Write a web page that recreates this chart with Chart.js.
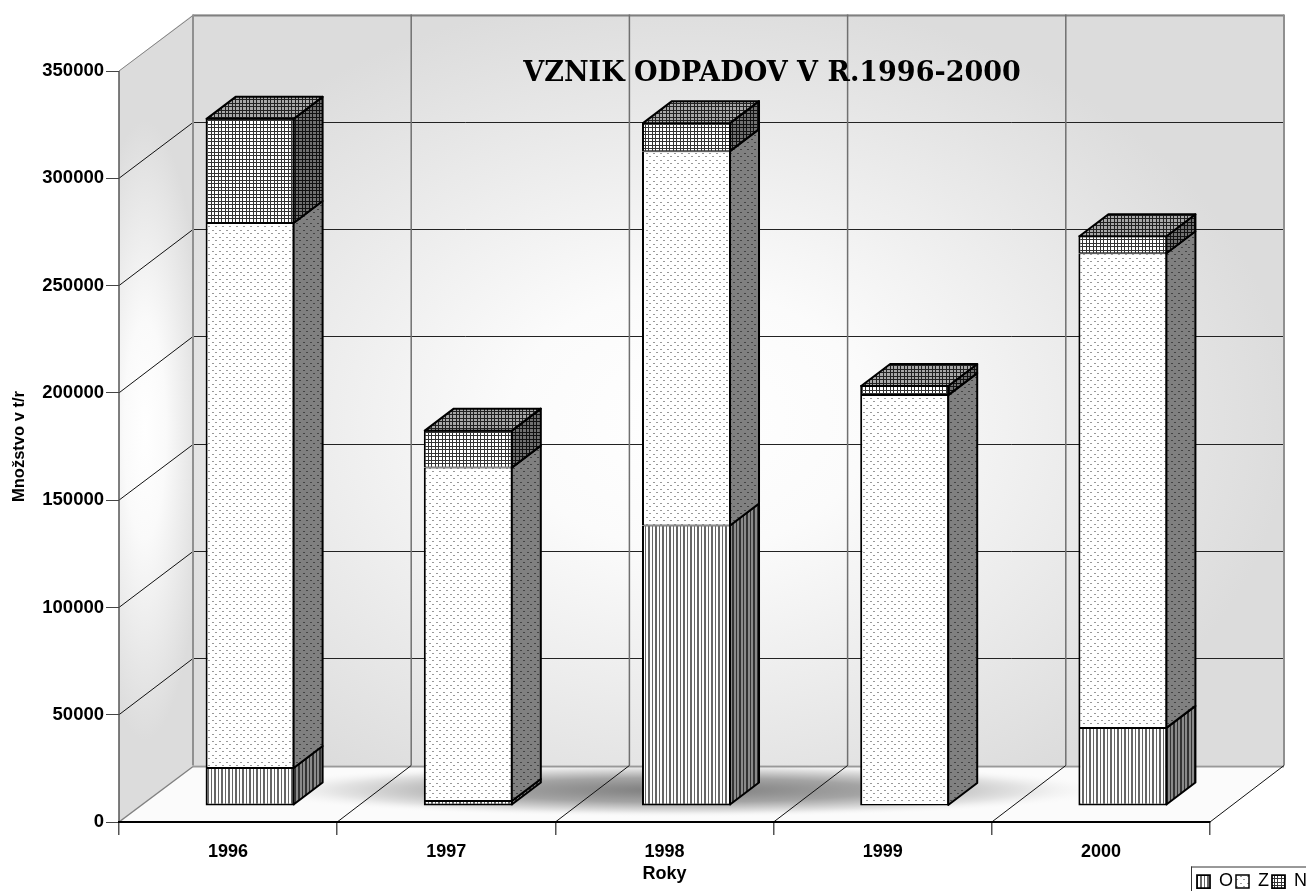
<!DOCTYPE html>
<html>
<head>
<meta charset="utf-8">
<title>Vznik odpadov</title>
<script src="https://cdn.jsdelivr.net/npm/chart.js@4/dist/chart.umd.js"></script>
<style>
html, body { margin: 0; padding: 0; background: #fff; }
canvas { display: block; }
</style>
</head>
<body>
<canvas id="myChart" width="1306" height="891"></canvas>
<script>
const years = ['1996', '1997', '1998', '1999', '2000'];
const valuesO = [17700, 2300, 130700, 500, 36400];
const valuesZ = [254000, 155400, 174500, 191000, 221200];
const valuesN = [49000, 17700, 13500, 4700, 8400];
const yMax = 350000;
const yStep = 50000;

// depth of the fake 3d box and of the columns inside it
const wallDx = 74, wallDy = -56.5;
const barDx = 29, barDy = -22;
const shiftX = 22, shiftY = -16;

function tile(w, h, bg, paint) {
    const c = document.createElement('canvas');
    c.width = w;
    c.height = h;
    const t = c.getContext('2d');
    t.fillStyle = bg;
    t.fillRect(0, 0, w, h);
    paint(t);
    return document.createElement('canvas').getContext('2d').createPattern(c, 'repeat');
}
function stripes(bg, fg) {
    return tile(7, 7, bg, t => {
        t.fillStyle = fg;
        t.fillRect(0, 0, 1, 7);
        t.fillRect(3, 0, 2, 7);
    });
}
function dots(bg, fg) {
    return tile(7, 7, bg, t => {
        t.fillStyle = fg;
        t.fillRect(1, 1, 2, 1);
        t.fillRect(4, 4, 2, 1);
    });
}
function mesh(bg, fg) {
    return tile(7, 7, bg, t => {
        t.fillStyle = fg;
        t.fillRect(0, 0, 1, 7);
        t.fillRect(3, 0, 1, 7);
        t.fillRect(0, 0, 7, 1);
        t.fillRect(0, 3, 7, 1);
    });
}

const sideFills = [stripes('#8a8a8a', '#333333'), dots('#808080', '#444444'), mesh('#707070', '#111111')];
const topFills = [stripes('#aaaaaa', '#333333'), dots('#aaaaaa', '#444444'), mesh('#a8a8a8', '#222222')];

function poly(ctx, pts) {
    ctx.beginPath();
    pts.forEach((p, i) => i ? ctx.lineTo(p[0], p[1]) : ctx.moveTo(p[0], p[1]));
    ctx.closePath();
}
function line(ctx, x1, y1, x2, y2, color, width) {
    ctx.strokeStyle = color;
    ctx.lineWidth = width;
    ctx.beginPath();
    ctx.moveTo(x1, y1);
    ctx.lineTo(x2, y2);
    ctx.stroke();
}
function glow(ctx, pts, cx, cy, rx, ry, stops) {
    ctx.save();
    poly(ctx, pts);
    ctx.clip();
    ctx.translate(cx, cy);
    ctx.scale(rx, ry);
    const g = ctx.createRadialGradient(0, 0, 0, 0, 0, 1);
    stops.forEach(s => g.addColorStop(s[0], s[1]));
    ctx.fillStyle = g;
    ctx.fillRect(-20, -20, 40, 40);
    ctx.restore();
}

const boxPlugin = {
    id: 'box3d',
    afterLayout(chart) {
        chart.titleBlock.left = 238;
        chart.titleBlock.right = 1306;
        chart.legend.left = 1194;
        chart.legend.right = 1340;
        chart.legend.top = 869.5;
    },
    beforeDraw(chart) {
        const ctx = chart.ctx;
        const a = chart.chartArea;
        const y = chart.scales.y;
        const bx = a.left + wallDx, tx = a.right + wallDx;
        const by = a.bottom + wallDy, ty = a.top + wallDy;
        const slot = (a.right - a.left) / years.length;

        ctx.save();
        const back = [[bx, ty], [tx, ty], [tx, by], [bx, by]];
        const side = [[a.left, a.top], [bx, ty], [bx, by], [a.left, a.bottom]];
        const floor = [[a.left, a.bottom], [bx, by], [tx, by], [a.right, a.bottom]];
        ctx.fillStyle = '#dcdcdc';
        poly(ctx, back);
        ctx.fill();
        poly(ctx, side);
        ctx.fill();
        glow(ctx, back, 690, 420, 600, 430, [[0, '#ffffff'], [0.3, '#fbfbfb'], [1, '#dcdcdc']]);
        glow(ctx, side, 145, 430, 60, 310, [[0, '#ffffff'], [0.35, '#fafafa'], [1, '#dcdcdc']]);
        ctx.fillStyle = '#fbfbfb';
        poly(ctx, floor);
        ctx.fill();
        glow(ctx, floor, 680, 790, 430, 27, [[0, '#7c7c7c'], [0.45, '#a4a4a4'], [0.8, '#e4e4e4'], [1, 'rgba(250,250,250,0)']]);

        // back wall and side wall grid
        for (let v = 0; v <= yMax; v += yStep) {
            const py = y.getPixelForValue(v);
            const backY = Math.round(py + wallDy) + 0.5;
            line(ctx, a.left, py, bx, backY, v === yMax || v === 0 ? '#808080' : '#111111', v === 0 ? 1.5 : 1);
            if (v === 0 || v === yMax) line(ctx, bx, backY, tx, backY, v === 0 ? '#999999' : '#808080', 2);
            else line(ctx, bx, backY, tx, backY, '#222222', 1);
        }
        // uprights on the back wall and lines across the floor
        for (let i = 0; i <= years.length; i++) {
            const px = a.left + i * slot;
            const edge = i === 0 || i === years.length;
            line(ctx, px + wallDx, ty, px + wallDx, by, edge ? '#909090' : '#707070', edge ? 2 : 1.5);
            if (i > 0) line(ctx, px, a.bottom, px + wallDx, by, '#111111', 1);
        }
        line(ctx, a.left, a.top, a.left, a.bottom, '#555555', 1.5);
        ctx.restore();
    },
    beforeDatasetsDraw(chart) {
        chart.ctx.save();
        chart.ctx.translate(shiftX, shiftY);
    },
    afterDatasetsDraw(chart) {
        const ctx = chart.ctx;
        const last = chart.data.datasets.length - 1;
        ctx.lineWidth = 2;
        ctx.strokeStyle = '#000';
        ctx.lineJoin = 'round';
        chart.data.datasets.forEach((ds, d) => {
            chart.getDatasetMeta(d).data.forEach(bar => {
                if (Math.abs(bar.base - bar.y) < 2) return;
                const r = bar.x + bar.width / 2 - 1;
                const l = bar.x - bar.width / 2 + 1;
                const top = bar.y + (d === last ? 1 : 0);
                const low = bar.base - (d === 0 ? 1 : 0);
                poly(ctx, [[r, top], [r + barDx, top + barDy], [r + barDx, low + barDy], [r, low]]);
                ctx.fillStyle = sideFills[d];
                ctx.fill();
                ctx.stroke();
                if (d === last) {
                    poly(ctx, [[l, top], [l + barDx, top + barDy], [r + barDx, top + barDy], [r, top]]);
                    ctx.fillStyle = topFills[d];
                    ctx.fill();
                    ctx.stroke();
                }
            });
        });
        ctx.restore();
    },
    afterDraw(chart) {
        const ctx = chart.ctx;
        const lg = chart.legend;
        line(ctx, lg.left - 3, lg.top - 2.5, 1306, lg.top - 2.5, '#333333', 1);
        line(ctx, lg.left - 2.5, lg.top - 3, lg.left - 2.5, 891, '#333333', 1);
    }
};

const sans = '"Liberation Sans", Arial, sans-serif';

new Chart(document.getElementById('myChart').getContext('2d'), {
    type: 'bar',
    data: {
        labels: years,
        datasets: [
            { label: 'O', data: valuesO, backgroundColor: stripes('#ffffff', '#666666'), borderWidth: { top: 1, bottom: 2, left: 2, right: 2 } },
            { label: 'Z', data: valuesZ, backgroundColor: dots('#ffffff', '#999999'), borderWidth: { top: 1, bottom: 1, left: 2, right: 2 } },
            { label: 'N', data: valuesN, backgroundColor: mesh('#ffffff', '#333333'), borderWidth: { top: 2, bottom: 1, left: 2, right: 2 } }
        ]
    },
    options: {
        responsive: false,
        animation: false,
        layout: { padding: { right: 96, left: 0, top: 0, bottom: 0 } },
        datasets: {
            bar: {
                stack: 'a',
                borderColor: '#000',
                borderSkipped: false,
                categoryPercentage: 1,
                barPercentage: 0.408,
                clip: false
            }
        },
        plugins: {
            title: {
                display: true,
                text: 'VZNIK ODPADOV V R.1996-2000',
                color: '#000',
                font: { family: '"DejaVu Serif", serif', weight: 'bold', size: 27, lineHeight: 1.2 },
                padding: { top: 58, bottom: -19.4 }
            },
            legend: {
                position: 'bottom',
                align: 'start',
                labels: {
                    boxWidth: 13,
                    boxHeight: 13,
                    padding: 3,
                    color: '#000',
                    font: { family: sans, size: 18 }
                }
            },
            tooltip: { enabled: false }
        },
        scales: {
            x: {
                stacked: true,
                grid: { drawOnChartArea: false, drawTicks: true, tickLength: 13, offset: true, color: '#555555', lineWidth: 1.5 },
                border: { color: '#000', width: 2 },
                ticks: { color: '#000', padding: 6, maxRotation: 0, font: { family: sans, weight: 'bold', size: 18 } },
                title: {
                    display: true,
                    text: 'Roky',
                    color: '#000',
                    font: { family: sans, weight: 'bold', size: 18 },
                    padding: { top: 0, bottom: -25 }
                },
                afterFit(scale) { scale.height = 38; }
            },
            y: {
                stacked: true,
                min: 0,
                max: yMax,
                grid: { drawOnChartArea: false, drawTicks: true, tickLength: 13, color: '#444444', lineWidth: 1 },
                border: { display: false },
                ticks: { stepSize: yStep, color: '#000', padding: 2, font: { family: sans, weight: 'bold', size: 18.5 }, callback: v => String(v) },
                title: {
                    display: true,
                    text: 'Množstvo v t/r',
                    color: '#000',
                    font: { family: sans, weight: 'bold', size: 16.5 },
                    padding: { top: 10, bottom: 0 }
                },
                afterFit(scale) { scale.width = 119; }
            }
        }
    },
    plugins: [boxPlugin]
});
</script>
</body>
</html>
